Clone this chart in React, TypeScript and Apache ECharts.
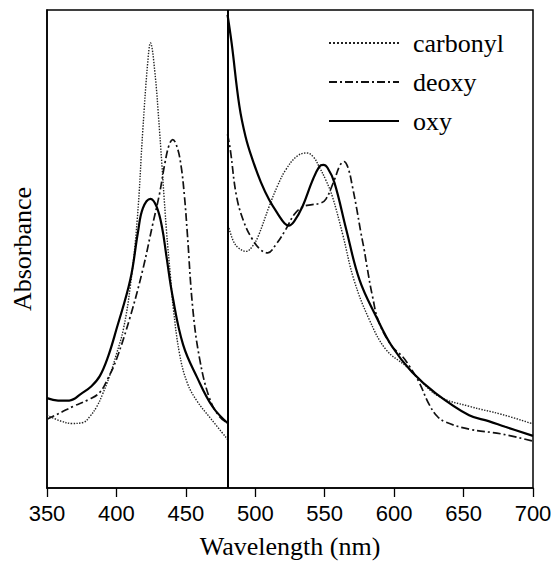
import React, { useEffect, useRef } from "react";
import * as echarts from "echarts";

// Wavelength ticks
const xTicks = [350, 400, 450, 500, 550, 600, 650, 700];
const dividerWavelength = 480;

// Soret region (350–480 nm), relative absorbance
const carbonylSoret: [number, number][] = [
  [350, 15.2], [360, 14.0], [368, 13.5], [376, 13.7], [381, 15.0], [386, 17.1],
  [390, 19.6], [395, 23.4], [400, 28], [405, 33.2], [410, 42.2], [415, 56.2],
  [419, 74.9], [422.5, 88.9], [424.5, 93.1], [427.5, 87.5], [431, 74.9], [436, 54],
  [439, 44], [441, 37.5], [445.5, 28], [451, 22], [458, 18.2], [468, 14.5], [480, 10.2],
];
const deoxySoret: [number, number][] = [
  [350, 14.4], [360, 15.8], [369, 17.1], [380, 18.5], [388, 20.0], [394, 23], [400, 26.9],
  [410, 35.9], [419, 45.7], [426, 55], [431, 61.5], [435, 68.1], [438, 71.8],
  [440.5, 72.9], [443.5, 71.5], [446.5, 67.5], [449, 61], [451, 53.5], [455, 37.5],
  [460, 26.9], [467, 18.8], [474, 15], [480, 13.6],
];
const oxySoret: [number, number][] = [
  [350, 18.8], [358, 18.3], [366, 18.3], [375, 19.8], [382, 21.3], [388, 23.4],
  [394, 27.5], [400, 33.2], [410, 43.6], [415.5, 53.5], [419, 58.5], [424.5, 60.5],
  [429, 58.8], [433, 54.3], [436, 48.5], [440.5, 40], [448, 30], [458, 23.2],
  [469, 17.1], [480, 13.6],
];

// Visible region (480–700 nm), separately scaled
const carbonylVis: [number, number][] = [
  [480, 55.5], [484, 51.8], [488, 50.2], [493.5, 49.5], [498, 50.6], [502, 52.6],
  [510, 58.9], [516, 63.2], [522, 66.6], [530, 69.4], [537, 70.1], [542, 69.2],
  [546, 67.2], [551, 64.3], [555.5, 61.0], [563, 53], [571, 43.6], [582, 35.3],
  [594, 29.0], [608.5, 25.5], [616, 23.4], [632, 19.2], [654, 17.1], [677.5, 15.4],
  [700, 13.4],
];
const deoxyVis: [number, number][] = [
  [480, 74], [482, 70.8], [486.5, 61.0], [492, 55.5], [498, 52.0], [504, 49.8],
  [509, 49.2], [515, 51], [522, 54.1], [528, 57.2], [534, 58.8], [541, 59.3],
  [547, 59.6], [551, 60.5], [557, 64.5], [561, 67.5], [564, 68.3], [567, 66.8],
  [570, 63], [573, 58.5], [576, 53.5], [578.4, 49.9], [580.8, 45.7], [584.4, 40.1],
  [589, 34.7], [598.6, 29.6], [606, 27.5], [611, 25.5], [618, 22.1], [625, 17.6],
  [631, 15], [637, 13.8], [654, 12.3], [677.5, 11.3], [700, 9.8],
];
const oxyVis: [number, number][] = [
  [480, 99], [483, 93], [488.5, 80], [493, 73.5], [498, 68.7], [504, 64], [510, 60.3],
  [517, 57.0], [521, 55.4], [524, 54.9], [528, 55.8], [534, 58.9], [541, 64.2],
  [546, 67.2], [549, 67.6], [552, 67.0], [557, 63.9], [565.5, 54.1], [575, 43.6],
  [587, 35.9], [598.5, 29.6], [613, 24.2], [630, 19.8], [654, 15.2], [668, 14],
  [680, 12.8], [700, 10.9],
];

const names = ["carbonyl", "deoxy", "oxy"];

export default function App() {
  const ref = useRef<HTMLDivElement>(null);
  useEffect(() => {
    if (!ref.current) return;
    const chart = echarts.init(ref.current, undefined, { renderer: "svg" });
    const styles: Record<string, any> = {
      carbonyl: { color: "#222", width: 1.4, type: "dotted" },
      deoxy: { color: "#111", width: 1.7, type: [8, 3, 2, 3] },
      oxy: { color: "#000", width: 2.2, type: "solid" },
    };
    const mk = (name: string, data: [number, number][], extra: any = {}) => ({
      name,
      type: "line",
      data,
      smooth: 0.4,
      symbol: "none",
      showSymbol: false,
      color: "#000",
      lineStyle: styles[name],
      ...extra,
    });
    chart.setOption({
      animation: false,
      backgroundColor: "#fff",
      grid: {
        left: 47, right: 24, top: 10, bottom: 75,
        show: true, borderColor: "#000", borderWidth: 1.5,
      },
      legend: {
        orient: "vertical",
        left: 323,
        top: 25,
        itemWidth: 70,
        itemHeight: 14,
        itemGap: 13,
        data: names,
        itemStyle: { opacity: 0 },
        textStyle: {
          fontFamily: "Liberation Serif",
          fontSize: 26,
          color: "#000",
          padding: [0, 0, 0, 9],
        },
      },
      xAxis: {
        type: "value",
        min: 350,
        max: 700,
        interval: 50,
        data: xTicks,
        name: "Wavelength (nm)",
        nameLocation: "middle",
        nameGap: 45,
        nameTextStyle: { fontFamily: "Liberation Serif", fontSize: 26, color: "#000" },
        axisLine: { show: true, lineStyle: { color: "#000", width: 1.5 } },
        axisTick: { show: true, length: 9, lineStyle: { color: "#000", width: 1.3 } },
        axisLabel: { fontFamily: "Liberation Sans", fontSize: 22, color: "#000", margin: 14 },
        splitLine: { show: false },
      },
      yAxis: {
        type: "value",
        min: 0,
        max: 100,
        name: "Absorbance",
        nameLocation: "middle",
        nameGap: 12,
        nameTextStyle: { fontFamily: "Liberation Serif", fontSize: 26, color: "#000" },
        axisLine: { show: true, lineStyle: { color: "#000", width: 1.5 } },
        axisTick: { show: false },
        axisLabel: { show: false },
        splitLine: { show: false },
      },
      series: [
        mk("carbonyl", carbonylSoret, {
          markLine: {
            silent: true,
            symbol: "none",
            label: { show: false },
            lineStyle: { color: "#000", width: 2, type: "solid" },
            data: [{ xAxis: dividerWavelength }],
          },
        }),
        mk("deoxy", deoxySoret),
        mk("oxy", oxySoret),
        mk("carbonyl", carbonylVis),
        mk("deoxy", deoxyVis),
        mk("oxy", oxyVis),
      ],
    });
    return () => chart.dispose();
  }, []);
  return (
    <div
      ref={ref}
      style={{ position: "fixed", left: 0, top: 0, width: 557, height: 564 }}
    />
  );
}
